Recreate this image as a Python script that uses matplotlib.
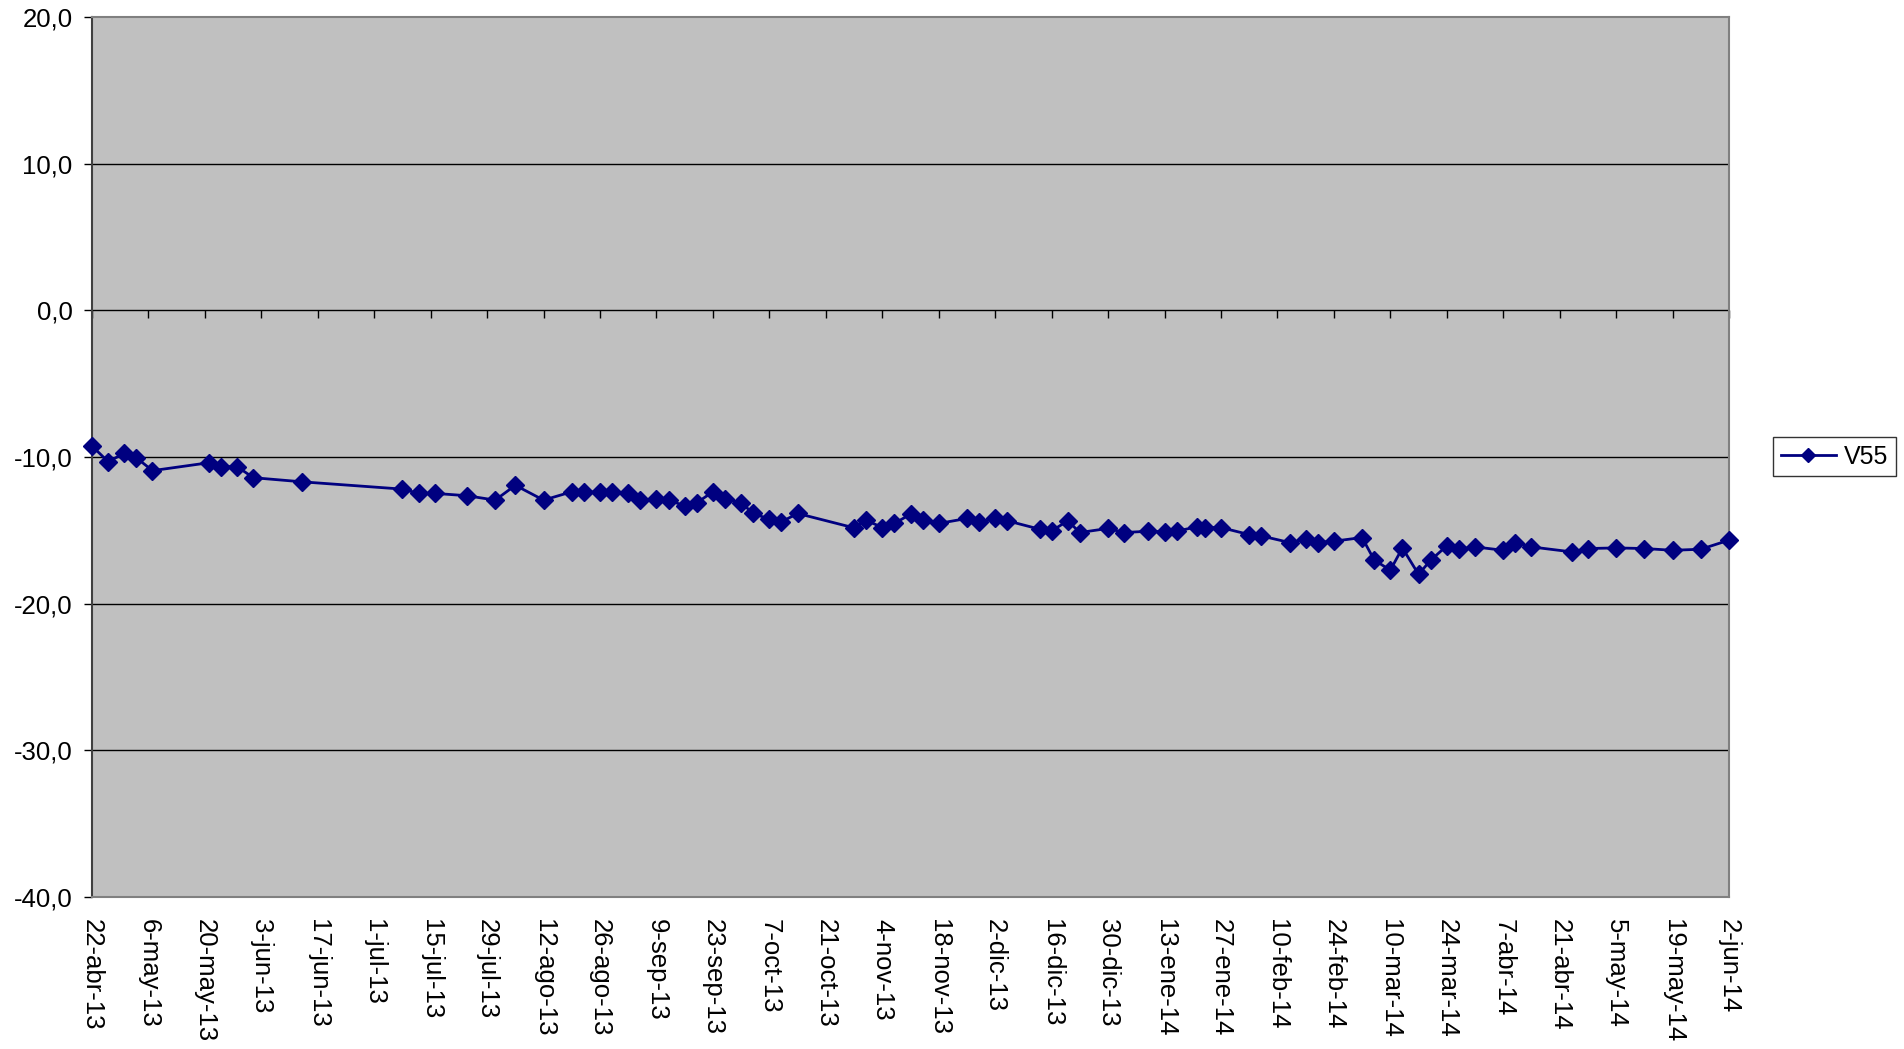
import matplotlib
matplotlib.use("Agg")
import matplotlib.pyplot as plt
import pandas as pd

plt.rcParams['font.family'] = ['Liberation Sans', 'DejaVu Sans']

dates = [
    "2013-04-22", "2013-04-26", "2013-04-30", "2013-05-03", "2013-05-07",
    "2013-05-21", "2013-05-24", "2013-05-28", "2013-06-01", "2013-06-13",
    "2013-07-08", "2013-07-12", "2013-07-16", "2013-07-24", "2013-07-31",
    "2013-08-05", "2013-08-12", "2013-08-19", "2013-08-22", "2013-08-26",
    "2013-08-29", "2013-09-02", "2013-09-05", "2013-09-09", "2013-09-12",
    "2013-09-16", "2013-09-19", "2013-09-23", "2013-09-26", "2013-09-30",
    "2013-10-03", "2013-10-07", "2013-10-10", "2013-10-14", "2013-10-28",
    "2013-10-31", "2013-11-04", "2013-11-07", "2013-11-11", "2013-11-14",
    "2013-11-18", "2013-11-25", "2013-11-28", "2013-12-02", "2013-12-05",
    "2013-12-13", "2013-12-16", "2013-12-20", "2013-12-23", "2013-12-30",
    "2014-01-03", "2014-01-09", "2014-01-13", "2014-01-16", "2014-01-21",
    "2014-01-23", "2014-01-27", "2014-02-03", "2014-02-06", "2014-02-13",
    "2014-02-17", "2014-02-20", "2014-02-24", "2014-03-03", "2014-03-06",
    "2014-03-10", "2014-03-13", "2014-03-17", "2014-03-20", "2014-03-24",
    "2014-03-27", "2014-03-31", "2014-04-07", "2014-04-10", "2014-04-14",
    "2014-04-24", "2014-04-28", "2014-05-05", "2014-05-12", "2014-05-19",
    "2014-05-26", "2014-06-02",
]

v55 = [
    -9.25, -10.32, -9.75, -10.05, -10.93,
    -10.39, -10.66, -10.66, -11.41, -11.69,
    -12.19, -12.48, -12.48, -12.64, -12.94,
    -11.93, -12.94, -12.37, -12.37, -12.41,
    -12.41, -12.48, -12.94, -12.87, -12.94,
    -13.33, -13.12, -12.37, -12.87, -13.12,
    -13.85, -14.24, -14.42, -13.85, -14.83,
    -14.31, -14.81, -14.53, -13.90, -14.31,
    -14.53, -14.19, -14.46, -14.19, -14.35,
    -14.92, -15.04, -14.35, -15.15, -14.87,
    -15.15, -15.06, -15.10, -15.06, -14.76,
    -14.81, -14.81, -15.29, -15.38, -15.83,
    -15.60, -15.83, -15.74, -15.49, -17.02,
    -17.72, -16.20, -18.00, -17.04, -16.06,
    -16.29, -16.13, -16.36, -15.83, -16.13,
    -16.47, -16.24, -16.20, -16.24, -16.36,
    -16.29, -15.67,
]

tick_labels = [
    "22-abr-13", "6-may-13", "20-may-13", "3-jun-13", "17-jun-13", "1-jul-13",
    "15-jul-13", "29-jul-13", "12-ago-13", "26-ago-13", "9-sep-13", "23-sep-13",
    "7-oct-13", "21-oct-13", "4-nov-13", "18-nov-13", "2-dic-13", "16-dic-13",
    "30-dic-13", "13-ene-14", "27-ene-14", "10-feb-14", "24-feb-14", "10-mar-14",
    "24-mar-14", "7-abr-14", "21-abr-14", "5-may-14", "19-may-14", "2-jun-14",
]

y_ticks = [-40, -30, -20, -10, 0, 10, 20]
y_tick_labels = ["-40,0", "-30,0", "-20,0", "-10,0", "0,0", "10,0", "20,0"]

x = pd.to_datetime(dates)
tick_pos = pd.date_range(start=x[0], periods=len(tick_labels), freq="14D")

fig = plt.figure(figsize=(19.04, 10.49), dpi=100)
ax = fig.add_axes([92 / 1904, 1 - 897 / 1049, (1729 - 92) / 1904, (897 - 17) / 1049])
ax.set_facecolor("#C0C0C0")

for yv in y_ticks[1:-1]:
    ax.axhline(yv, color="black", lw=1.0, zorder=1)

line, = ax.plot(x, v55, color="#000080", lw=2.0, marker="D", markersize=9,
                markerfacecolor="#000080", markeredgecolor="#000080", zorder=3,
                label="V55", clip_on=False)

ax.set_ylim(-40, 20)
ax.set_xlim(tick_pos[0], tick_pos[-1])
ax.set_yticks(y_ticks)
ax.set_yticklabels(y_tick_labels, fontsize=18.5)
ax.tick_params(axis="y", direction="out", length=6, width=1, color="black", pad=8)

ax.set_xticks(tick_pos)
ax.set_xticklabels(tick_labels, rotation=270, fontsize=18.5, va="top", ha="center")
ax.tick_params(axis="x", length=0, pad=16)

for side in ["top", "right", "bottom"]:
    ax.spines[side].set_color("#808080")
    ax.spines[side].set_linewidth(1.5)
ax.spines["left"].set_color("#404040")
ax.spines["left"].set_linewidth(1.5)

# category axis crossing at 0 with tick marks
sec = ax.secondary_xaxis(2 / 3)
sec.set_xticks(tick_pos)
sec.tick_params(axis="x", direction="out", length=6, width=1, color="black",
                labelbottom=False, labeltop=False, bottom=True, top=False)
sec.spines["bottom"].set_color("black")
sec.spines["bottom"].set_linewidth(1.0)
for s in ["top", "left", "right"]:
    if s in sec.spines:
        sec.spines[s].set_visible(False)

leg = fig.legend(handles=[line], labels=["V55"], loc="center left",
                 bbox_to_anchor=(1773 / 1904, 1 - 456.5 / 1049),
                 fontsize=18, frameon=True, fancybox=False, shadow=False,
                 borderpad=0.3, borderaxespad=0.0, handlelength=2.2,
                 handletextpad=0.35, markerscale=0.8)
leg.get_frame().set_edgecolor("black")
leg.get_frame().set_linewidth(1.0)

fig.savefig("out.png", dpi=100, facecolor="white")
